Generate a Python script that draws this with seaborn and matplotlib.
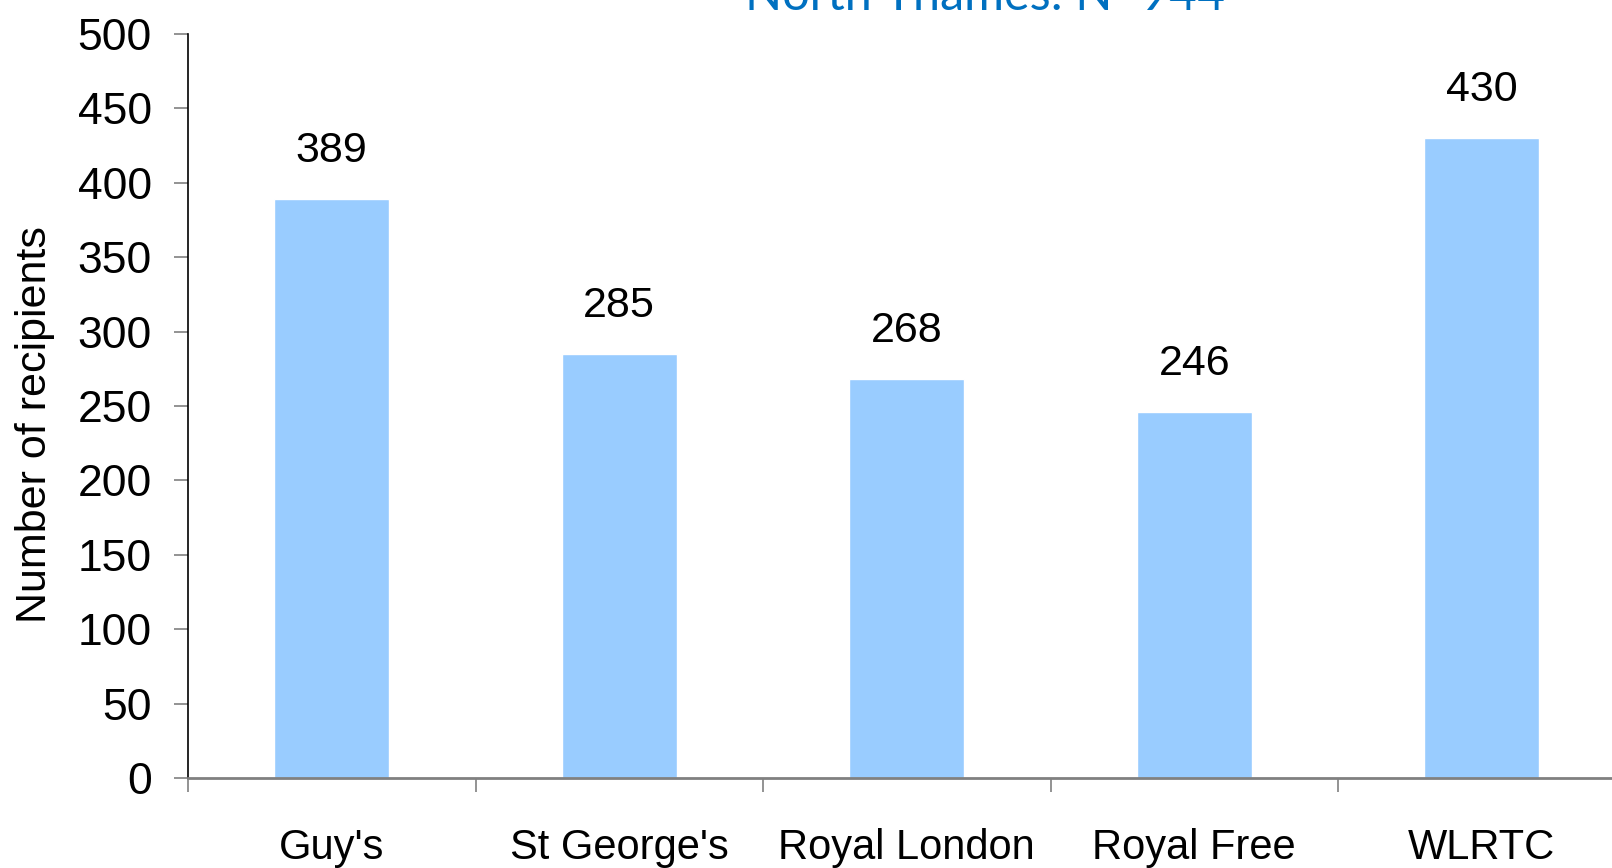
import matplotlib
matplotlib.use("Agg")
import matplotlib.pyplot as plt
import seaborn as sns
import pandas as pd
import numpy as np

centres = ["Guy's", "St George's", "Royal London", "Royal Free", "WLRTC"]
recipients = [389, 285, 268, 246, 430]
yticks = [0, 50, 100, 150, 200, 250, 300, 350, 400, 450, 500]
title = "North Thames: N=944"

sns.set_theme(style="white")
plt.rcParams['font.family'] = ['Liberation Sans', 'DejaVu Sans']
plt.rcParams['text.color'] = 'black'
plt.rcParams['axes.labelcolor'] = 'black'
plt.rcParams['xtick.color'] = 'black'
plt.rcParams['ytick.color'] = 'black'

df = pd.DataFrame({"centre": centres, "n": recipients})

fig = plt.figure(figsize=(16.12, 8.68), dpi=100)
ax = fig.add_axes([188/1612, 1-778/868, 1-188/1612, (778-34)/868])

sns.barplot(data=df, x="centre", y="n", color="#99CCFF", saturation=1, width=0.4, ax=ax)

ax.set_ylim(0, 500)
ax.set_xlim(-0.5, (1612-188)/287.5 - 0.5)
ax.set_yticks(yticks)
ax.set_yticklabels([str(t) for t in yticks], fontsize=32)
ax.set_xlabel("")
ax.set_ylabel("Number of recipients", fontsize=31, labelpad=16)
ax.yaxis.label.set_y(0.475)

ax.set_xticks(range(len(centres)))
ax.set_xticklabels(centres, fontsize=30)
ax.set_xticks(np.arange(len(centres)) - 0.5, minor=True)
ax.tick_params(axis='x', which='major', length=0, pad=36, bottom=True)
ax.tick_params(axis='x', which='minor', length=10, width=1.2, color='#808080',
               direction='out', bottom=True)
ax.tick_params(axis='y', which='major', length=10, width=1.2, color='#808080',
               labelcolor='black', direction='out', pad=16, left=True)

for s in ['top', 'right']:
    ax.spines[s].set_visible(False)
ax.spines['left'].set_color('black')
ax.spines['left'].set_linewidth(1.2)
ax.spines['bottom'].set_color('#808080')
ax.spines['bottom'].set_linewidth(2)

for i, v in enumerate(recipients):
    ax.annotate(str(v), (i, v), xytext=(0, 20), textcoords='offset points',
                ha='center', va='bottom', fontsize=31, color='black')

fig.text(985/1612, 1-10/868, title, ha='center', va='baseline', fontsize=35,
         color='#0070C0', family=['Lato', 'DejaVu Sans'])

fig.savefig("out.png", dpi=100)
